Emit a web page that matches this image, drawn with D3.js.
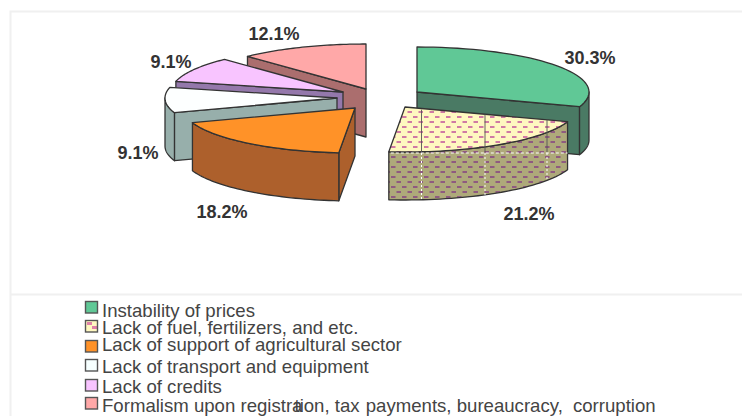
<!DOCTYPE html>
<html>
<head>
<meta charset="utf-8">
<script src="https://d3js.org/d3.v7.min.js"></script>
<style>
  html, body { margin: 0; padding: 0; background: #fff; }
  svg { display: block; }
  text { font-family: "Liberation Sans", Arial, sans-serif; fill: #333; }
  .pct { font-size: 18px; font-weight: bold; }
  .leg { font-size: 18.6px; fill: #444; }
</style>
</head>
<body>
<div id="chart"></div>
<script>
var categories = ["Instability of prices", "Lack of fuel, fertilizers, and etc.", "Lack of support of agricultural sector",
  "Lack of transport and equipment", "Lack of credits", "Formalism upon registration, tax payments, bureaucracy, corruption"];
var values = [30.3, 21.2, 18.2, 9.1, 9.1, 12.1];
var topColors = ["#60c896", "url(#fuelTop)", "#ff9228", "#fdffff", "#f8c4ff", "#ffa8a8"];
var sideColors = ["#4a7a64", "url(#fuelSide)", "#ad602c", "#97afab", "#9478ab", "#ab6e6e"];
var swatchColors = ["#60c896", "url(#fuelSwatch)", "#ff9228", "#f6ffff", "#f8c4ff", "#ffa8a8"];

// where each exploded slice has its apex, and where the labels go
var apexX = [417, 405, 355, 337, 343, 366];
var apexY = [92, 107, 108, 98, 92, 89];
var labelX = [590, 529, 222, 138, 171, 274];
var labelY = [64, 220, 218, 159, 68, 40];
var legendY = [317, 334, 351, 373, 393, 412];
var swatchY = [301, 320, 340, 359, 379, 397];
var gridX = [421.5, 485, 547];
// the last legend line has squeezed letters in the original
var lastLinePieces = ["Formalism upon registra", "tion, tax ", "payments, ", "bureaucracy, ", "corruption"];
var lastLineShift = [0, -8, 1, 0, 5];

var width = 742, height = 416, rx = 172, ry = 45, depth = 48, seamY = 153;
var drawOrder = [5, 4, 3, 0, 2, 1];

var svg = d3.select("#chart").append("svg").attr("width", width).attr("height", height);

var defs = svg.append("defs");
function fuelPattern(id, bg, dash) {
  var p = defs.append("pattern").attr("id", id).attr("patternUnits", "userSpaceOnUse")
    .attr("width", 11).attr("height", 10);
  p.append("rect").attr("width", 11).attr("height", 10).attr("fill", bg);
  p.append("rect").attr("x", 0.5).attr("y", 1).attr("width", 4.5).attr("height", 2).attr("fill", dash);
  p.append("rect").attr("x", 6).attr("y", 6).attr("width", 4.5).attr("height", 2).attr("fill", dash);
}
fuelPattern("fuelTop", "#fff8c0", "#d07aa4");
fuelPattern("fuelSide", "#aea97a", "#8f5a80");
var sw = defs.append("pattern").attr("id", "fuelSwatch").attr("patternUnits", "userSpaceOnUse")
  .attr("x", 85).attr("y", swatchY[1]).attr("width", 13).attr("height", 12);
sw.append("rect").attr("width", 13).attr("height", 12).attr("fill", "#fff8c0");
sw.append("rect").attr("x", 2).attr("y", 2).attr("width", 5).attr("height", 3).attr("fill", "#e080a8");
sw.append("rect").attr("x", 7).attr("y", 6).attr("width", 5).attr("height", 3).attr("fill", "#e080a8");

svg.append("path").attr("d", "M10.5,416V11.5H742M10.5,294.5H742")
  .attr("fill", "none").attr("stroke", "#f0f0f0").attr("stroke-width", 2);

var arcs = d3.pie().sort(null).value(function (d) { return d; })(values);

function px(i, a) { return apexX[i] + rx * Math.sin(a); }
function py(i, a) { return apexY[i] - ry * Math.cos(a); }

function rimPoints(i, a0, a1, dy) {
  var n = 40, pts = [];
  for (var k = 0; k <= n; k++) {
    var a = a0 + (a1 - a0) * k / n;
    pts.push([px(i, a), py(i, a) + dy]);
  }
  return pts;
}
var line = d3.line();

var slices = svg.selectAll("g.slice").data(drawOrder).enter().append("g").attr("class", "slice");

slices.each(function (i) {
  var g = d3.select(this), a0 = arcs[i].startAngle, a1 = arcs[i].endAngle;
  var ax = apexX[i], ay = apexY[i];
  var style = function (s, fill) {
    return s.attr("fill", fill).attr("stroke", "#333").attr("stroke-width", 1.3).attr("stroke-linejoin", "round");
  };
  // only the cut face that looks at the viewer
  var cuts = [];
  if (a0 > Math.PI) cuts.push(a0);
  if (a1 < Math.PI) cuts.push(a1);
  cuts.forEach(function (a) {
    style(g.append("path").attr("d", line([[ax, ay], [px(i, a), py(i, a)], [px(i, a), py(i, a) + depth], [ax, ay + depth]]) + "Z"), sideColors[i]);
  });
  // outer wall, front half of the rim only
  var w0 = Math.max(a0, Math.PI / 2), w1 = Math.min(a1, Math.PI * 1.5);
  if (w1 > w0) {
    var wall = rimPoints(i, w0, w1, 0).concat(rimPoints(i, w1, w0, depth));
    style(g.append("path").attr("d", line(wall) + "Z"), sideColors[i]);
  }
  // top face
  var top = [[ax, ay]].concat(rimPoints(i, a0, a1, 0));
  style(g.append("path").attr("d", line(top) + "Z"), topColors[i]);
  // the fuel slice has seams in its pattern
  if (i === 1) {
    g.append("line").attr("x1", px(1, a1) + 2).attr("x2", Math.max(px(1, a0), 392)).attr("y1", seamY).attr("y2", seamY)
      .attr("stroke", "#fff").attr("stroke-width", 1).attr("stroke-dasharray", "3,2");
    gridX.forEach(function (x) {
      var s = Math.asin((x - ax) / rx);
      var rimY = ay - ry * Math.cos(Math.PI - s);
      var backY = x < ax + 20
        ? ay + (rimY - ay) * 0.06
        : d3.interpolateNumber(ay, py(1, a0))((x - ax) / (px(1, a0) - ax));
      g.append("line").attr("x1", x).attr("x2", x).attr("y1", backY).attr("y2", seamY - 1)
        .attr("stroke", "#555").attr("stroke-width", 0.9);
      g.append("line").attr("x1", x).attr("x2", x).attr("y1", seamY).attr("y2", rimY + depth)
        .attr("stroke", "#fff").attr("stroke-width", 1).attr("stroke-dasharray", "2,2");
    });
  }
});

svg.selectAll("text.pct").data(values).enter().append("text")
  .attr("class", "pct").attr("text-anchor", "middle")
  .attr("x", function (d, i) { return labelX[i]; })
  .attr("y", function (d, i) { return labelY[i]; })
  .text(function (d) { return d.toFixed(1) + "%"; });

svg.selectAll("rect.sw").data(categories).enter().append("rect")
  .attr("class", "sw").attr("x", 85.5).attr("width", 12).attr("height", 11.5)
  .attr("y", function (d, i) { return swatchY[i] + 0.5; })
  .attr("fill", function (d, i) { return swatchColors[i]; })
  .attr("stroke", "#555").attr("stroke-width", 1.4);

var legendText = svg.selectAll("text.leg").data(categories).enter().append("text")
  .attr("class", "leg").attr("x", 102)
  .attr("y", function (d, i) { return legendY[i]; })
  .text(function (d, i) { return i < categories.length - 1 ? d : null; });

d3.select(legendText.nodes()[categories.length - 1]).selectAll("tspan").data(lastLinePieces).enter().append("tspan")
  .attr("dx", function (d, i) { return lastLineShift[i]; })
  .text(function (d) { return d; });
</script>
</body>
</html>
